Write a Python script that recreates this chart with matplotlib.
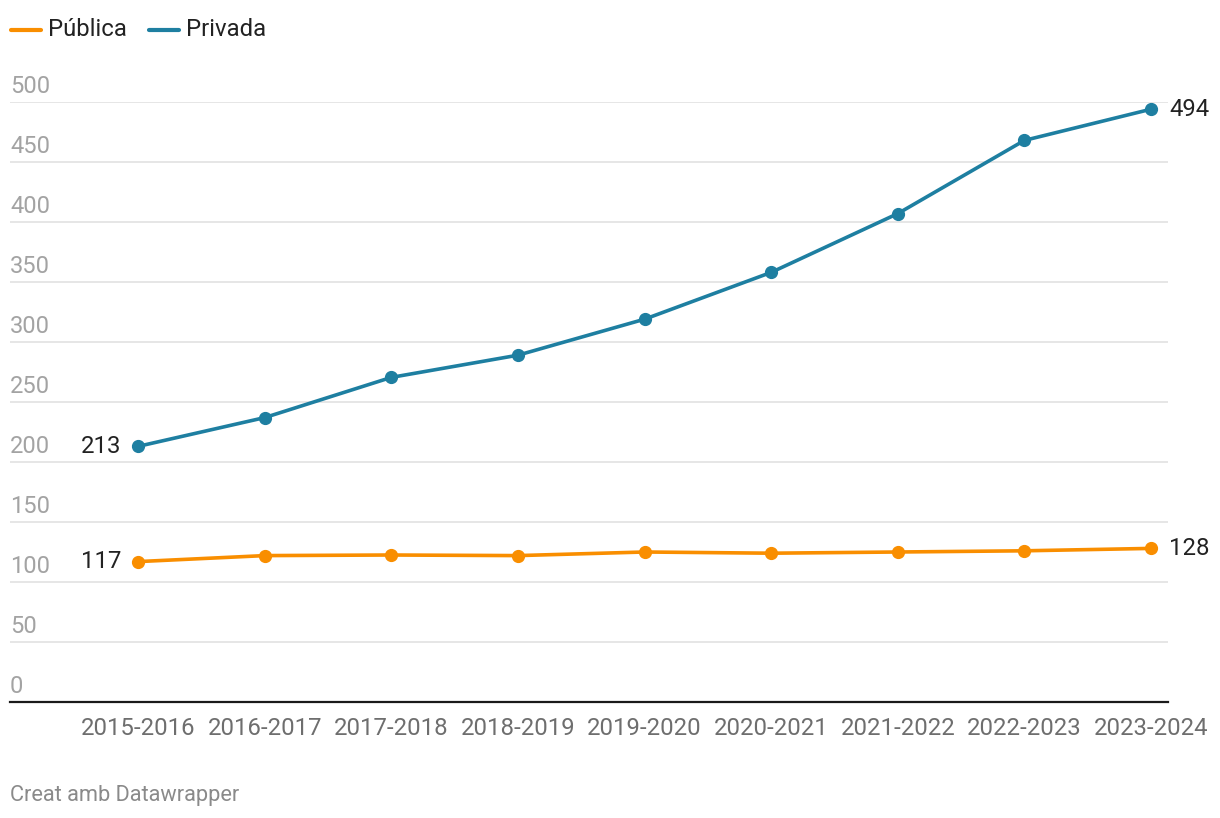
import matplotlib
matplotlib.use("Agg")
import matplotlib.pyplot as plt
from matplotlib.lines import Line2D
import matplotlib.transforms as mtransforms

categories = ["2015-2016", "2016-2017", "2017-2018", "2018-2019", "2019-2020",
              "2020-2021", "2021-2022", "2022-2023", "2023-2024"]
publica = [117, 122, 122.5, 122, 125, 124, 125, 126, 128]
privada = [213, 237, 270.5, 289, 319, 358, 407, 468, 494]
yticks = [0, 50, 100, 150, 200, 250, 300, 350, 400, 450, 500]

C_PUB = "#f98e00"
C_PRI = "#1e7fa1"
FONT = "Roboto"

W, H = 1220, 818
fig = plt.figure(figsize=(W / 100, H / 100), dpi=100)
ax = fig.add_axes([10 / W, 1 - 702 / H, (1168 - 10) / W, (702 - 102) / H])

x = list(range(len(categories)))
ax.plot(x, privada, color=C_PRI, lw=2.6, marker="o", ms=8.5, zorder=3, clip_on=False)
ax.plot(x, publica, color=C_PUB, lw=2.6, marker="o", ms=8.5, zorder=3, clip_on=False)

ax.set_xlim(-1.011, 8.134)
ax.set_ylim(0, 500)

for s in ["top", "right", "left"]:
    ax.spines[s].set_visible(False)
ax.spines["bottom"].set_color("#1a1a1a")
ax.spines["bottom"].set_linewidth(1.6)
ax.spines["bottom"].set_zorder(4)

ax.set_yticks(yticks)
ax.set_yticklabels([])
ax.tick_params(axis="y", length=0)
ax.grid(axis="y", color="#e2e2e2", lw=1.2, zorder=0)
ax.set_axisbelow(True)

ax.set_xticks(x)
ax.set_xticklabels(categories, fontsize=17.2, color="#6e6e6e", family=FONT)
ax.tick_params(axis="x", length=0, pad=10.5)

trans = mtransforms.blended_transform_factory(ax.transAxes, ax.transData)
offset = mtransforms.ScaledTranslation(0, 4 / 100, fig.dpi_scale_trans)
for t in yticks:
    ax.text(0, t, str(t), transform=trans + offset, ha="left", va="bottom",
            fontsize=17, color="#a3a3a3", family=FONT)

# end labels
ax.annotate(str(privada[0]), (0, privada[0]), xytext=(-12, 0), textcoords="offset points",
            ha="right", va="center", fontsize=17.2, color="#222222", family=FONT)
ax.annotate(str(publica[0]), (0, publica[0]), xytext=(-12, 0), textcoords="offset points",
            ha="right", va="center", fontsize=17.2, color="#222222", family=FONT)
ax.annotate(str(privada[-1]), (8, privada[-1]), xytext=(13, 0), textcoords="offset points",
            ha="left", va="center", fontsize=17.2, color="#222222", family=FONT)
ax.annotate(str(publica[-1]), (8, publica[-1]), xytext=(13, 0), textcoords="offset points",
            ha="left", va="center", fontsize=17.2, color="#222222", family=FONT)

# legend
ly = 1 - 30 / H
fig.add_artist(Line2D([11 / W, 41 / W], [ly, ly], color=C_PUB, lw=3, solid_capstyle="round"))
fig.text(48 / W, ly, "Pública", ha="left", va="center", fontsize=17.2, color="#222222", family=FONT)
fig.add_artist(Line2D([149 / W, 179 / W], [ly, ly], color=C_PRI, lw=3, solid_capstyle="round"))
fig.text(186 / W, ly, "Privada", ha="left", va="center", fontsize=17.2, color="#222222", family=FONT)

fig.text(10 / W, 1 - 795 / H, "Creat amb Datawrapper", ha="left", va="center",
         fontsize=15.7, color="#8a8a8a", family=FONT)

fig.savefig("out.png", dpi=100)
